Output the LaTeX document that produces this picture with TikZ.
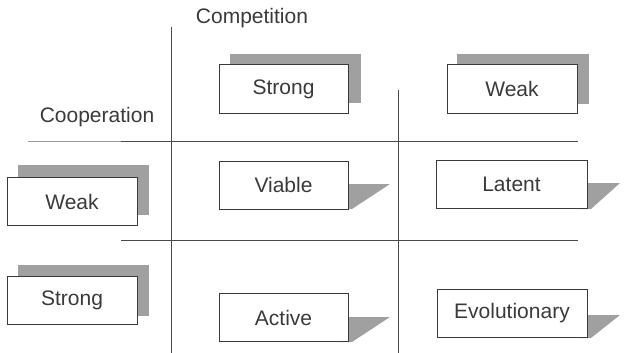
\documentclass[tikz,border=0pt]{standalone}
\usepackage{fontspec}
\setmainfont{Liberation Sans}
\begin{document}
\begin{tikzpicture}[x=1pt,y=-1pt,
  txt/.style={text=ink, font=\fontsize{21}{25}\selectfont},
  cellbox/.style={txt, draw=ink, fill=white, line width=1pt, inner sep=0pt,
                  minimum height=48pt},
  shade/.style={fill=shadowgray, draw=none},
  axis/.style={draw=axisgray, line width=1pt}]
\definecolor{ink}{HTML}{3A3A3A}
\definecolor{axisgray}{HTML}{4A4A4A}
\definecolor{lightaxis}{HTML}{9A9A9A}
\definecolor{shadowgray}{HTML}{A0A0A0}
\useasboundingbox (0,0) rectangle (624,353);

% axis titles
\node[txt] (comp) at (252,18) {Competition};
\node[txt] (coop) at (97,117) {Cooperation};

% grid lines
\coordinate (v1t) at (171,27);  \coordinate (v1b) at (171,353);
\coordinate (v2t) at (398,90);  \coordinate (v2b) at (398,353);
\coordinate (h1a) at (28,141);  \coordinate (h1b) at (121,141);
\coordinate (h1c) at (578,141);
\coordinate (h2a) at (121,240); \coordinate (h2b) at (578,240);
\draw[axis] (v1t) -- (v1b);
\draw[axis] (v2t) -- (v2b);
\draw[draw=lightaxis, line width=1pt] (h1a) -- (h1b);
\draw[axis] (h1b) -- (h1c);
\draw[axis] (h2a) -- (h2b);

% header boxes with raised shadows
\fill[shade] (230,54) rectangle (361,103);
\node[cellbox, minimum width=129pt] (cstrong) at (283.5,89) {Strong};
\fill[shade] (457,54) rectangle (589,104);
\node[cellbox, minimum width=130pt] (cweak) at (512,89) {Weak};
\fill[shade] (18,165) rectangle (149,215);
\node[cellbox, minimum width=130pt] (kweak) at (72,201.5) {Weak};
\fill[shade] (18,265) rectangle (149,316);
\node[cellbox, minimum width=130pt] (kstrong) at (72,300.5) {Strong};

% outcome boxes with wedge shadows
\fill[shade] (340,184) -- (390,184) -- (352,209) -- (340,209) -- cycle;
\node[cellbox, minimum width=129pt] (viable) at (283.5,185) {Viable};
\fill[shade] (580,183) -- (620,183) -- (591,209) -- (580,209) -- cycle;
\node[cellbox, minimum width=151pt] (latent) at (511.5,184.5) {Latent};
\fill[shade] (340,317) -- (390,317) -- (352,342) -- (340,342) -- cycle;
\node[cellbox, minimum width=129pt] (active) at (283.5,317.5) {Active};
\fill[shade] (580,315) -- (620,315) -- (591,338) -- (580,338) -- cycle;
\node[cellbox, minimum width=150pt] (evol) at (512,313.5) {Evolutionary};
\end{tikzpicture}
\end{document}
